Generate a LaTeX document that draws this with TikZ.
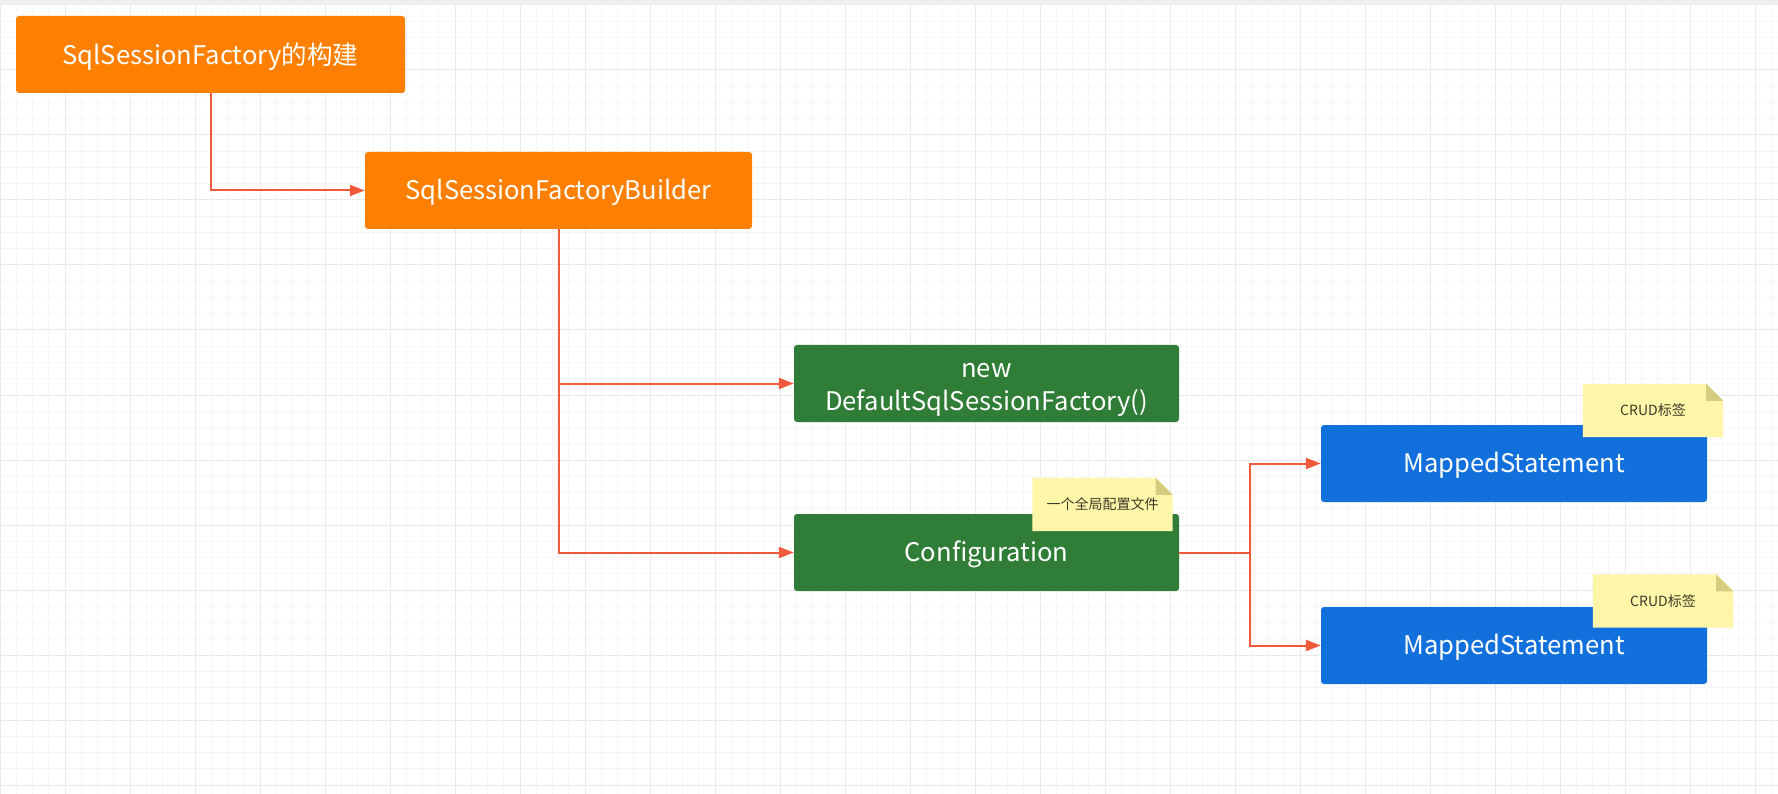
\documentclass[tikz,border=0pt]{standalone}
\usepackage{fontspec}
\setmainfont{Noto Sans CJK SC}
\usetikzlibrary{arrows.meta}
\definecolor{boxorange}{RGB}{255,128,0}
\definecolor{boxgreen}{RGB}{47,125,55}
\definecolor{boxblue}{RGB}{18,112,220}
\definecolor{notey}{RGB}{255,246,170}
\definecolor{notefold}{RGB}{214,204,128}
\definecolor{notetext}{RGB}{60,58,40}
\definecolor{linkred}{RGB}{242,88,58}
\definecolor{gridminor}{RGB}{246,246,246}
\definecolor{gridmajor}{RGB}{234,234,234}
\definecolor{topband}{RGB}{238,238,240}
\begin{document}
\begin{tikzpicture}[x=1pt,y=-1pt,
  box/.style={rounded corners=3pt, inner sep=0pt},
  boxtext/.style={text=white, align=center, inner sep=0pt,
    font=\fontsize{25.6}{33}\selectfont},
  note/.style={inner sep=0pt, text=notetext, font=\fontsize{14}{16}\selectfont},
  link/.style={draw=linkred, line width=2pt, -{Triangle[length=15pt,width=11pt]}},
  minorline/.style={draw=gridminor, line width=1pt},
  majorline/.style={draw=gridmajor, line width=1pt}]
% background
\fill[white] (0,0) rectangle (1778,794);
\useasboundingbox (0,0) rectangle (1778,794);
\foreach \i in {0,...,110} {
  \draw[minorline] ({\i*16.25},0) -- ({\i*16.25},794);
}
\foreach \j in {0,...,49} {
  \draw[minorline] (0,{5+\j*16.25}) -- (1778,{5+\j*16.25});
}
\foreach \i in {0,...,27} {
  \draw[majorline] ({\i*65},0) -- ({\i*65},794);
}
\foreach \j in {0,...,12} {
  \draw[majorline] (0,{5+\j*65}) -- (1778,{5+\j*65});
}
\fill[topband] (0,0) rectangle (1778,5);
% boxes
\node[box, fill=boxorange, minimum width=389pt, minimum height=77pt] (b1) at (210.5,54.5) {};
\node[box, fill=boxorange, minimum width=387pt, minimum height=77pt] (b2) at (558.5,190.5) {};
\node[box, fill=boxgreen, minimum width=385pt, minimum height=77pt] (b3) at (986.5,383.5) {};
\node[box, fill=boxgreen, minimum width=385pt, minimum height=77pt] (b4) at (986.5,552.5) {};
\node[box, fill=boxblue, minimum width=386pt, minimum height=77pt] (b5) at (1514,463.5) {};
\node[box, fill=boxblue, minimum width=386pt, minimum height=77pt] (b6) at (1514,645.5) {};
\node[boxtext] (t1) at ([yshift=-2pt]b1.center) {SqlSessionFactory的构建};
\node[boxtext] (t2) at ([yshift=-2pt]b2.center) {SqlSessionFactoryBuilder};
\node[boxtext] (t3) at ([yshift=-6pt]b3.center) {new\\DefaultSqlSessionFactory()};
\node[boxtext] (t4) at ([yshift=-2pt]b4.center) {Configuration};
\node[boxtext] (t5) at ([yshift=-2pt]b5.center) {MappedStatement};
\node[boxtext] (t6) at ([yshift=-2pt]b6.center) {MappedStatement};
% connectors
\coordinate (j1) at (1250,552.5);
\draw[link] (b1.south) |- (b2.west);
\draw[link] (b2.south) |- (b3.west);
\draw[link] (b2.south) |- (b4.west);
\draw[link] (b4.east) -- (j1) |- (b5.west);
\draw[link] (j1) |- (b6.west);
% notes
\foreach \n/\cx/\cy/\t in {n1/1102.5/504.5/一个全局配置文件, n2/1653/410.5/CRUD标签, n3/1663/601/CRUD标签} {
  \node[note, minimum width=140pt, minimum height=53pt] (\n) at (\cx,\cy) {};
  \fill[notey] (\n.north west) -- ([xshift=-17pt]\n.north east) -- ([yshift=-17pt]\n.north east) -- (\n.south east) -- (\n.south west) -- cycle;
  \fill[notefold] ([xshift=-17pt]\n.north east) -- ([xshift=-17pt,yshift=-17pt]\n.north east) -- ([yshift=-17pt]\n.north east) -- cycle;
  \node[note] (\n text) at (\n.center) {\t};
}
\end{tikzpicture}
\end{document}
